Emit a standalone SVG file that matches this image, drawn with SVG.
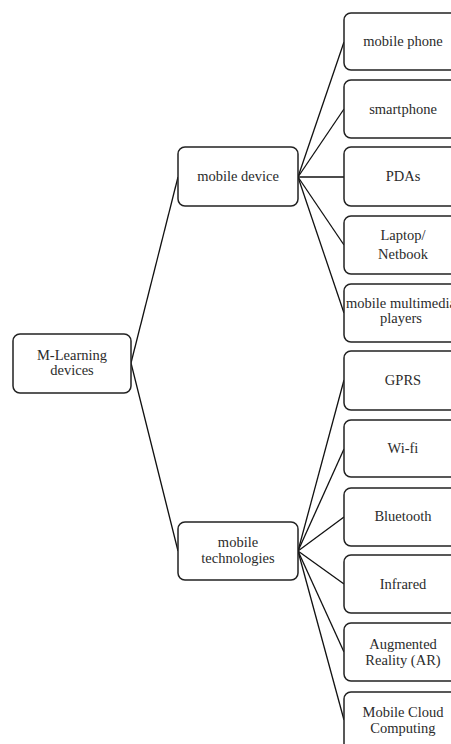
<svg xmlns="http://www.w3.org/2000/svg" width="451" height="744" viewBox="0 0 451 744">
<style>
.box{fill:#fff;stroke:#222;stroke-width:1.5}
.t{font-family:"Liberation Serif","Times New Roman",serif;font-size:14.5px;fill:#2b2b2b;text-anchor:middle}
.c{stroke:#111;stroke-width:1.3;fill:none}
</style>
<rect width="451" height="744" fill="#fff"/>
<g id="connectors">
<line class="c" x1="131" y1="363" x2="178" y2="177"/>
<line class="c" x1="131" y1="363" x2="178" y2="551"/>
<line class="c" x1="298" y1="177" x2="344" y2="42"/>
<line class="c" x1="298" y1="177" x2="344" y2="109"/>
<line class="c" x1="298" y1="177" x2="344" y2="177"/>
<line class="c" x1="298" y1="177" x2="344" y2="245"/>
<line class="c" x1="298" y1="177" x2="344" y2="313"/>
<line class="c" x1="298" y1="551" x2="344" y2="380"/>
<line class="c" x1="298" y1="551" x2="344" y2="449"/>
<line class="c" x1="298" y1="551" x2="344" y2="517"/>
<line class="c" x1="298" y1="551" x2="344" y2="584"/>
<line class="c" x1="298" y1="551" x2="344" y2="652"/>
<line class="c" x1="298" y1="551" x2="344" y2="720"/>
</g>
<g id="root"><rect class="box" x="13" y="334" width="118" height="59" rx="7"/><text class="t" x="72" y="360">M-Learning</text><text class="t" x="72" y="375">devices</text></g>
<g id="mobile-device"><rect class="box" x="178" y="147" width="120" height="59" rx="7"/><text class="t" x="238" y="181">mobile device</text></g>
<g id="mobile-technologies"><rect class="box" x="178" y="522" width="120" height="58" rx="7"/><text class="t" x="238" y="547">mobile</text><text class="t" x="238" y="563">technologies</text></g>
<g id="mobile-phone"><rect class="box" x="344" y="13" width="120" height="57" rx="7"/><text class="t" x="403" y="46">mobile phone</text></g>
<g id="smartphone"><rect class="box" x="344" y="80" width="120" height="58" rx="7"/><text class="t" x="403" y="114">smartphone</text></g>
<g id="pdas"><rect class="box" x="344" y="147" width="120" height="59" rx="7"/><text class="t" x="403" y="181">PDAs</text></g>
<g id="laptop"><rect class="box" x="344" y="216" width="120" height="58" rx="7"/><text class="t" x="403" y="240">Laptop/</text><text class="t" x="403" y="259">Netbook</text></g>
<g id="multimedia"><rect class="box" x="344" y="284" width="120" height="58" rx="7"/><text class="t" x="401" y="308">mobile multimedia</text><text class="t" x="401" y="323">players</text></g>
<g id="gprs"><rect class="box" x="344" y="351" width="120" height="59" rx="7"/><text class="t" x="403" y="385">GPRS</text></g>
<g id="wifi"><rect class="box" x="344" y="420" width="120" height="57" rx="7"/><text class="t" x="403" y="453">Wi-fi</text></g>
<g id="bluetooth"><rect class="box" x="344" y="488" width="120" height="58" rx="7"/><text class="t" x="403" y="521">Bluetooth</text></g>
<g id="infrared"><rect class="box" x="344" y="555" width="120" height="58" rx="7"/><text class="t" x="403" y="589">Infrared</text></g>
<g id="ar"><rect class="box" x="344" y="623" width="120" height="58" rx="7"/><text class="t" x="403" y="649">Augmented</text><text class="t" x="403" y="665">Reality (AR)</text></g>
<g id="cloud"><rect class="box" x="344" y="692" width="120" height="60" rx="7"/><text class="t" x="403" y="717">Mobile Cloud</text><text class="t" x="403" y="733">Computing</text></g>
</svg>
